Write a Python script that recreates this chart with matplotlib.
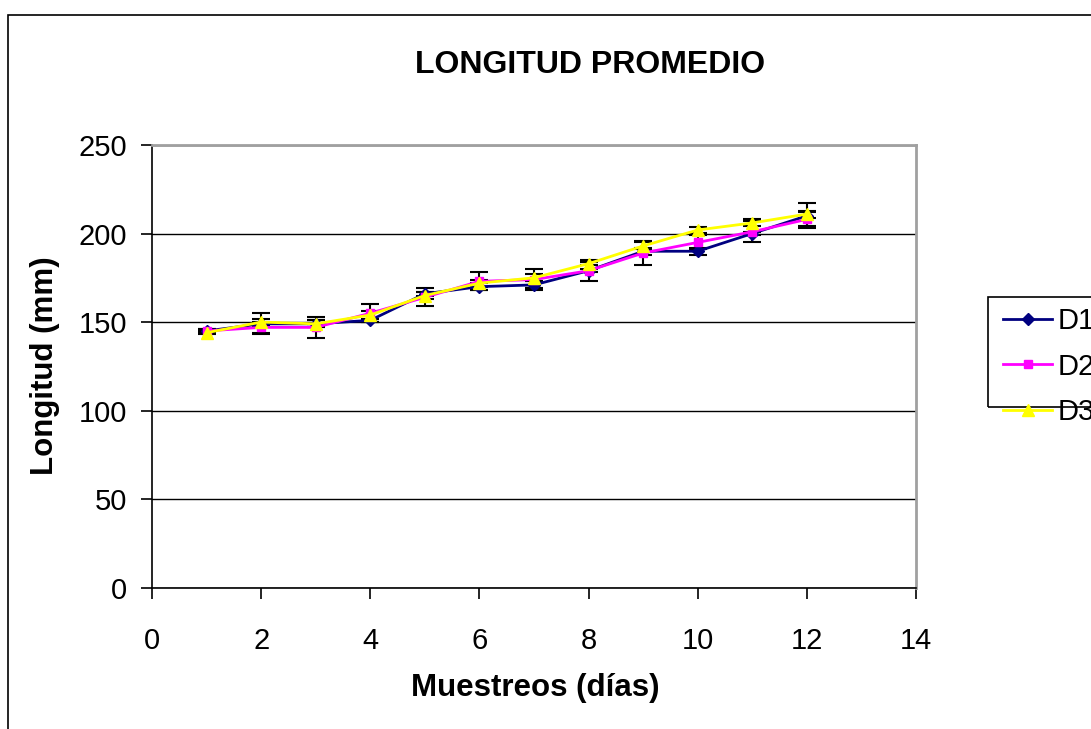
import matplotlib
matplotlib.use("Agg")
import matplotlib.pyplot as plt
from matplotlib.patches import Rectangle

plt.rcParams['font.family'] = ['Liberation Sans', 'DejaVu Sans']

dias = [1, 2, 3, 4, 5, 6, 7, 8, 9, 10, 11, 12]
d1 = [145, 149, 149, 151, 166, 170, 171, 179, 190, 190, 200, 210]
d2 = [145, 147, 147, 155, 164, 173, 174, 179, 189, 195, 201, 208]
d3 = [144, 150, 149, 154, 165, 172, 175, 183, 193, 202, 206, 211]
err1 = [1, 6, 2, 1, 1, 2, 2, 1, 2, 2, 1, 7]
err2 = [1, 3, 6, 5, 5, 5, 6, 6, 7, 4, 6, 4]
err3 = [1, 2, 2, 2, 2, 2, 2, 1, 2, 1.5, 2, 2]
series_names = ['D1', 'D2', 'D3']

W, H = 1091, 729
fig = plt.figure(figsize=(W / 100, H / 100), dpi=100)
fig.patches.append(Rectangle((8 / W, -0.1), 1.2, 1.1 - 15 / H, transform=fig.transFigure,
                             fill=False, edgecolor='black', linewidth=1.2))
# legend frame
fig.patches.append(Rectangle((988 / W, 1 - 407 / H), 0.2, 110 / H, transform=fig.transFigure,
                             fill=False, edgecolor='black', linewidth=1.2))

ax = fig.add_axes([152 / W, 1 - 587.7 / H, (916 - 152) / W, (587.7 - 145) / H])

styles = [
    dict(color='#000080', marker='D', ms=6),
    dict(color='#FF00FF', marker='s', ms=6),
    dict(color='#FFFF00', marker='^', ms=9),
]
for vals, errs in zip([d1, d2, d3], [err1, err2, err3]):
    ax.errorbar(dias, vals, yerr=errs, fmt='none', ecolor='black', elinewidth=1.5,
                capsize=6.5, capthick=1.5, zorder=2)
for vals, name, st in zip([d1, d2, d3], series_names, styles):
    ax.plot(dias, vals, color=st['color'], marker=st['marker'], ms=st['ms'],
            mec=st['color'], mfc=st['color'], linewidth=2, label=name, zorder=3)

ax.set_xlim(0, 14)
ax.set_ylim(0, 250)
ax.set_xticks(range(0, 15, 2))
ax.set_yticks(range(0, 251, 50))
ax.yaxis.grid(True, color='black', linewidth=1)
ax.set_axisbelow(True)
ax.tick_params(axis='both', labelsize=21, length=8, width=1.2, direction='out')
ax.tick_params(axis='x', pad=20)
ax.tick_params(axis='y', pad=10)
for s in ['top', 'right']:
    ax.spines[s].set_color('#a0a0a0')
    ax.spines[s].set_linewidth(2)
for s in ['left', 'bottom']:
    ax.spines[s].set_color('black')
    ax.spines[s].set_linewidth(1.2)

fig.text(535 / W, 1 - 688 / H, 'Muestreos (días)', fontsize=22.5, fontweight='bold',
         ha='center', va='center')
fig.text(45 / W, 1 - 366 / H, 'Longitud (mm)', fontsize=22.5, fontweight='bold',
         ha='center', va='center', rotation=90)
fig.text((415 + 765) / 2 / W, 1 - 65 / H, 'LONGITUD PROMEDIO', fontsize=23, fontweight='bold',
         ha='center', va='center')

leg = fig.legend(loc='upper left', bbox_to_anchor=(1003 / W, 1 - 307 / H), fontsize=21,
                 frameon=False, handlelength=1.68, borderpad=0, labelspacing=0.6,
                 handletextpad=0.2, borderaxespad=0)

fig.savefig('out.png', dpi=100)
